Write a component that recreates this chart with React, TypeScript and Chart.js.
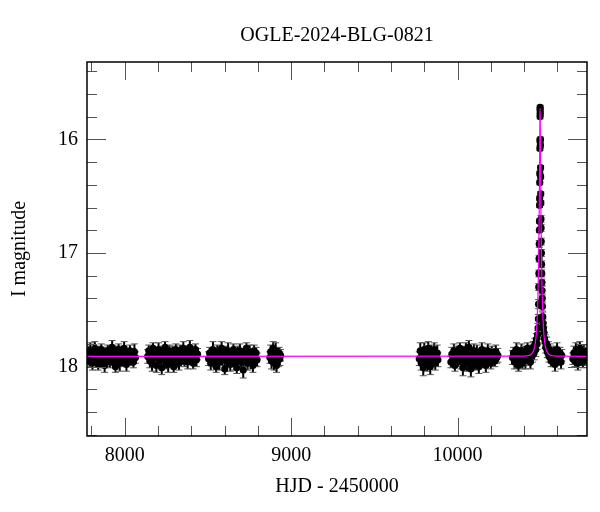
import React, { useEffect, useRef } from 'react';
import { Chart, registerables } from 'chart.js';

Chart.register(...registerables);

const FONT = '"Liberation Serif", "Times New Roman", serif';

const chartTitle = 'OGLE-2024-BLG-0821';
const xTitle = 'HJD - 2450000';
const yTitle = 'I magnitude';
const xMajorTicks = [8000, 9000, 10000];
const xMinorStep = 200;
const yMajorTicks = [16, 17, 18];
const yMinorStep = 0.2;
const xRange = [7773, 10778];
const yRange = [15.32, 18.61];

// [HJD-2450000, I mag, error]
const season1 = [
  [7774,17.93,.05],[7781,17.88,.06],[7788,17.95,.05],[7793,17.86,.07],[7801,17.91,.05],[7806,17.97,.06],
  [7814,17.89,.05],[7820,17.84,.06],[7827,17.94,.05],[7833,17.90,.07],[7840,17.98,.05],[7846,17.87,.05],
  [7853,17.92,.06],[7859,17.85,.05],[7866,17.95,.06],[7872,17.90,.05],[7879,17.99,.06],[7885,17.88,.05],
  [7892,17.93,.07],[7898,17.86,.05],[7905,17.91,.06],[7911,17.96,.05],[7918,17.89,.05],[7924,17.83,.06],
  [7931,17.94,.05],[7937,17.90,.06],[7944,18.00,.05],[7950,17.87,.05],[7957,17.92,.06],[7963,17.85,.05],
  [7970,17.97,.07],[7976,17.91,.05],[7983,17.88,.06],[7990,17.95,.05],[7996,17.84,.06],[8003,17.92,.05],
  [8010,17.98,.06],[8017,17.89,.05],[8024,17.93,.06],[8031,17.86,.05],[8038,17.94,.05],[8045,17.90,.06],
  [8052,17.96,.05],[8058,17.87,.07],[8064,17.92,.05],
];
const season2 = [
  [8138,17.91,.06],[8144,17.86,.05],[8151,17.95,.06],[8157,17.89,.05],[8164,17.97,.07],[8170,17.84,.05],
  [8177,17.92,.06],[8183,17.88,.05],[8190,17.99,.06],[8196,17.90,.05],[8203,17.85,.06],[8209,17.94,.05],
  [8216,17.91,.07],[8222,18.01,.06],[8229,17.87,.05],[8235,17.93,.06],[8242,17.83,.05],[8248,17.96,.06],
  [8255,17.90,.05],[8261,17.98,.07],[8268,17.86,.05],[8274,17.92,.06],[8281,17.95,.05],[8287,17.88,.06],
  [8294,18.00,.05],[8300,17.91,.06],[8307,17.85,.05],[8313,17.94,.07],[8320,17.89,.05],[8326,17.97,.06],
  [8333,17.86,.05],[8339,17.92,.06],[8346,17.90,.05],[8352,17.84,.06],[8359,17.95,.05],[8365,17.91,.07],
  [8372,17.87,.05],[8378,17.96,.06],[8385,17.89,.05],[8391,17.83,.06],[8398,17.93,.05],[8404,17.88,.06],
  [8411,17.97,.05],[8418,17.90,.06],[8425,17.85,.05],[8431,17.94,.06],[8437,17.89,.05],
];
const season3 = [
  [8504,17.93,.06],[8510,17.88,.05],[8517,17.97,.06],[8523,17.90,.05],[8530,17.85,.07],[8536,17.95,.05],
  [8543,17.91,.06],[8549,18.00,.05],[8556,17.87,.06],[8562,17.93,.05],[8569,17.96,.07],[8575,17.89,.05],
  [8582,17.84,.06],[8588,17.94,.05],[8595,17.91,.06],[8601,18.02,.05],[8608,17.88,.06],[8614,17.95,.05],
  [8621,17.86,.07],[8627,17.92,.05],[8634,17.98,.06],[8640,17.90,.05],[8647,17.94,.06],[8653,17.85,.05],
  [8660,17.97,.06],[8666,17.91,.07],[8673,18.01,.05],[8679,17.88,.06],[8686,17.93,.05],[8692,17.86,.06],
  [8699,17.96,.05],[8705,17.90,.06],[8712,18.03,.07],[8718,17.89,.05],[8725,17.94,.06],[8731,17.84,.05],
  [8738,17.97,.06],[8744,17.91,.05],[8751,17.87,.06],[8757,17.95,.07],[8764,17.90,.05],[8770,17.99,.06],
  [8777,17.86,.05],[8783,17.93,.06],[8789,17.88,.05],[8795,17.94,.06],
];
const season4 = [
  [8872,17.92,.05],[8877,17.87,.06],[8882,17.95,.07],[8887,17.90,.05],[8892,17.84,.06],[8897,17.97,.06],
  [8902,17.91,.05],[8907,17.86,.07],[8912,17.99,.06],[8917,17.89,.05],[8922,17.94,.06],[8927,17.88,.05],
  [8932,17.93,.06],[8936,17.90,.05],
];
const season5 = [
  [9770,17.93,.06],[9776,17.86,.07],[9782,17.97,.06],[9788,17.90,.05],[9794,18.01,.07],[9800,17.85,.06],
  [9806,17.94,.05],[9812,17.89,.07],[9818,17.98,.06],[9824,17.84,.06],[9830,17.92,.05],[9836,18.00,.07],
  [9842,17.87,.06],[9848,17.95,.05],[9854,17.90,.07],[9860,17.85,.06],[9866,17.97,.06],[9872,17.91,.05],
  [9878,17.88,.07],[9882,17.94,.06],
];
const season6 = [
  [9960,17.96,.05],[9966,17.89,.06],[9972,17.93,.05],[9978,17.86,.06],[9984,17.99,.05],[9990,17.91,.06],
  [9996,17.87,.05],[10002,17.94,.06],[10008,17.90,.07],[10014,17.84,.05],[10020,17.96,.06],[10026,17.91,.05],
  [10032,18.01,.07],[10038,17.88,.06],[10044,17.93,.05],[10050,17.85,.06],[10056,17.97,.07],[10062,17.90,.05],
  [10068,17.83,.06],[10074,17.95,.05],[10080,18.02,.07],[10086,17.89,.06],[10092,17.92,.05],[10098,17.86,.06],
  [10104,17.98,.05],[10110,17.91,.07],[10116,17.87,.06],[10122,17.95,.05],[10128,18.00,.06],[10134,17.89,.05],
  [10140,17.93,.07],[10146,17.85,.06],[10152,17.96,.05],[10158,17.91,.06],[10164,17.88,.05],[10170,17.99,.06],
  [10176,17.90,.05],[10182,17.86,.06],[10188,17.94,.05],[10194,17.91,.06],[10200,17.97,.05],[10206,17.88,.06],
  [10212,17.93,.05],[10218,17.90,.06],[10224,17.95,.05],[10230,17.87,.06],[10236,17.92,.05],[10242,17.90,.06],
];
const season7 = [
  [10330,17.92,.06],[10336,17.88,.05],[10342,17.96,.06],[10348,17.90,.05],[10354,17.85,.06],[10360,17.94,.07],
  [10366,17.99,.05],[10372,17.89,.06],[10378,17.93,.05],[10384,17.86,.06],[10390,17.97,.05],[10396,17.91,.06],
  [10402,17.87,.05],[10408,17.95,.07],[10414,17.89,.06],[10420,17.84,.05],[10426,17.93,.06],[10432,17.88,.05],
  [10438,17.96,.06],[10444,17.86,.05],[10450,17.90,.06],[10455,17.83,.05],[10460,17.88,.06],[10465,17.80,.05],
  [10470,17.85,.06],[10474,17.76,.05],[10478,17.80,.05],[10481,17.72,.04],[10484,17.66,.04],[10486,17.58,.04],
  [10519,17.70,.05],[10522,17.75,.05],[10526,17.78,.06],[10530,17.83,.05],[10535,17.80,.06],[10540,17.87,.05],
  [10545,17.84,.06],[10550,17.91,.05],[10556,17.86,.06],[10562,17.95,.05],[10568,17.89,.06],[10574,17.93,.07],
  [10580,17.87,.05],[10586,17.98,.06],[10592,17.90,.05],[10598,17.85,.06],[10604,17.94,.05],[10610,17.91,.06],
  [10616,17.88,.05],[10622,17.96,.06],[10626,17.90,.05],
];
const eventPeak = [
  [10487,17.45,.04],[10488,17.30,.03],[10489,17.18,.03],[10490,17.05,.03],[10491,16.92,.03],[10492,16.80,.02],
  [10492.5,16.72,.02],[10493,16.58,.02],[10493.4,16.52,.02],[10494,16.38,.02],[10494.3,16.30,.02],[10495,16.08,.02],
  [10495.3,16.01,.02],[10496,15.80,.02],[10496.2,15.74,.02],[10496.5,15.72,.02],[10497,15.77,.02],[10497.8,16.00,.02],
  [10498,16.05,.02],[10499,16.25,.02],[10499.3,16.33,.02],[10500,16.48,.02],[10500.5,16.56,.02],[10501.5,16.70,.03],
  [10502,16.78,.03],[10503,16.90,.03],[10504,17.00,.03],[10505,17.10,.03],[10506,17.18,.03],[10507,17.26,.03],
  [10508,17.33,.04],[10509,17.40,.04],[10510,17.47,.04],[10512,17.56,.04],[10514,17.62,.04],[10516,17.66,.05],
];
const season8 = [
  [10693,17.93,.05],[10699,17.88,.06],[10705,17.95,.05],[10711,17.86,.07],[10717,17.91,.05],[10723,17.97,.06],
  [10729,17.89,.05],[10735,17.84,.06],[10741,17.94,.05],[10747,17.90,.06],[10753,17.96,.05],[10759,17.87,.06],
  [10765,17.92,.05],[10771,17.89,.06],[10777,17.94,.05],
];

// Model curve (magenta)
const modelT = [7700, 10380, 10416, 10441, 10456, 10464, 10471, 10476, 10480, 10483, 10486, 10488, 10490, 10491,
  10492, 10493, 10494, 10495, 10496, 10497, 10498, 10499, 10500, 10501, 10502, 10504, 10506, 10509, 10512, 10516,
  10521, 10528, 10536, 10551, 10576, 10612, 10900];
const modelM = [17.91, 17.908, 17.905, 17.893, 17.863, 17.822, 17.749, 17.652, 17.526, 17.385, 17.18, 16.995, 16.75, 16.60,
  16.42, 16.22, 16.00, 15.81, 15.73, 15.81, 16.00, 16.22, 16.42, 16.60, 16.75, 16.995, 17.18, 17.385, 17.526, 17.652,
  17.749, 17.822, 17.863, 17.893, 17.905, 17.908, 17.91];

function stepTicks(min: number, max: number, step: number) {
  const out: { value: number }[] = [];
  const start = Math.ceil(min / step - 1e-9);
  const end = Math.floor(max / step + 1e-9);
  for (let k = start; k <= end; k++) out.push({ value: Math.round(k * step * 1000) / 1000 });
  return out;
}

const isMajor = (v: number, majors: number[]) => majors.some((m) => Math.abs(m - v) < 1e-6);

export default function App() {
  const ref = useRef<HTMLCanvasElement | null>(null);

  useEffect(() => {
    document.body.style.margin = '0';
    const allObs = [...season1, ...season2, ...season3, ...season4, ...season5, ...season6, ...season7, ...eventPeak, ...season8];
    const points = allObs.map(([x, y, e]) => ({ x, y, e }));
    const model = modelT.map((t, i) => ({ x: t, y: modelM[i] }));

    const errorBars = {
      id: 'errorBars',
      beforeDatasetsDraw(chart: any) {
        const { ctx, chartArea, scales } = chart;
        const xs = scales.x, ys = scales.y;
        ctx.save();
        ctx.beginPath();
        ctx.rect(chartArea.left, chartArea.top, chartArea.right - chartArea.left, chartArea.bottom - chartArea.top);
        ctx.clip();
        chart.data.datasets.forEach((ds: any) => {
          if (!ds.errorBars) return;
          ds.data.forEach((p: any) => {
            const px = xs.getPixelForValue(p.x);
            const y1 = ys.getPixelForValue(p.y - p.e);
            const y2 = ys.getPixelForValue(p.y + p.e);
            ctx.strokeStyle = '#000';
            ctx.lineWidth = 2;
            ctx.beginPath();
            ctx.moveTo(px, y1);
            ctx.lineTo(px, y2);
            ctx.stroke();
            ctx.strokeStyle = '#555';
            ctx.lineWidth = 1;
            ctx.beginPath();
            ctx.moveTo(px - 3.5, y1);
            ctx.lineTo(px + 3.5, y1);
            ctx.moveTo(px - 3.5, y2);
            ctx.lineTo(px + 3.5, y2);
            ctx.stroke();
          });
        });
        ctx.restore();
      },
    };

    const frame = {
      id: 'frame',
      afterDraw(chart: any) {
        const { ctx, chartArea: a, scales } = chart;
        const xs = scales.x, ys = scales.y;
        ctx.save();
        ctx.strokeStyle = '#555';
        ctx.lineWidth = 1;
        ctx.beginPath();
        xs.ticks.forEach((t: any) => {
          if (t.value < xs.min || t.value > xs.max) return;
          const px = Math.round(xs.getPixelForValue(t.value)) + 0.5;
          const len = isMajor(t.value, xMajorTicks) ? 18 : 10;
          ctx.moveTo(px, a.bottom);
          ctx.lineTo(px, a.bottom - len);
          ctx.moveTo(px, a.top);
          ctx.lineTo(px, a.top + len);
        });
        ys.ticks.forEach((t: any) => {
          if (t.value < ys.min || t.value > ys.max) return;
          const py = Math.round(ys.getPixelForValue(t.value)) + 0.5;
          const len = isMajor(t.value, yMajorTicks) ? 19 : 10;
          ctx.moveTo(a.left, py);
          ctx.lineTo(a.left + len, py);
          ctx.moveTo(a.right, py);
          ctx.lineTo(a.right - len, py);
        });
        ctx.stroke();
        ctx.strokeStyle = '#000';
        ctx.lineWidth = 1.5;
        ctx.strokeRect(a.left, a.top, a.right - a.left, a.bottom - a.top);
        ctx.restore();
      },
    };

    const chart = new Chart(ref.current as HTMLCanvasElement, {
      type: 'scatter',
      data: {
        datasets: [
          {
            label: 'model',
            type: 'line',
            data: model,
            borderColor: '#ff00ff',
            borderWidth: 1.2,
            pointRadius: 0,
            showLine: true,
            cubicInterpolationMode: 'monotone',
            order: 0,
          } as any,
          {
            label: 'OGLE I',
            data: points,
            pointRadius: 3.6,
            pointHoverRadius: 3.6,
            backgroundColor: '#000',
            borderColor: '#000',
            borderWidth: 0,
            order: 1,
            errorBars: true,
          } as any,
        ],
      },
      options: {
        responsive: false,
        animation: false,
        events: [],
        layout: { padding: { left: 0, right: 13, top: 0, bottom: 0 } },
        plugins: {
          legend: { display: false },
          tooltip: { enabled: false },
          title: {
            display: true,
            text: chartTitle,
            fullSize: false,
            color: '#000',
            font: { family: FONT, size: 20, weight: 'normal' },
            padding: { top: 24, bottom: 14 },
          },
        },
        scales: {
          x: {
            type: 'linear',
            min: xRange[0],
            max: xRange[1],
            grid: { display: false, drawTicks: false },
            border: { display: false },
            afterBuildTicks: (s: any) => { s.ticks = stepTicks(xRange[0], xRange[1], xMinorStep); },
            ticks: {
              autoSkip: false,
              maxRotation: 0,
              padding: 8,
              color: '#000',
              font: { family: FONT, size: 20 },
              callback: (v: any) => (isMajor(Number(v), xMajorTicks) ? String(Math.round(Number(v))) : ''),
            },
            title: {
              display: true,
              text: xTitle,
              color: '#000',
              font: { family: FONT, size: 20 },
              padding: { top: 0, bottom: 13 },
            },
            afterFit: (s: any) => { s.height = 76; },
          },
          y: {
            type: 'linear',
            reverse: true,
            min: yRange[0],
            max: yRange[1],
            grid: { display: false, drawTicks: false },
            border: { display: false },
            afterBuildTicks: (s: any) => { s.ticks = stepTicks(yRange[0], yRange[1], yMinorStep); },
            ticks: {
              autoSkip: false,
              padding: 9,
              color: '#000',
              font: { family: FONT, size: 20 },
              callback: (v: any) => (isMajor(Number(v), yMajorTicks) ? String(Math.round(Number(v))) : ''),
            },
            title: {
              display: true,
              text: yTitle,
              color: '#000',
              font: { family: FONT, size: 20 },
              padding: { top: 8, bottom: 0 },
            },
            afterFit: (s: any) => { s.width = 87; },
          },
        },
      },
      plugins: [errorBars, frame],
    } as any);

    return () => chart.destroy();
  }, []);

  return (
    <div style={{ width: 600, height: 512 }}>
      <canvas ref={ref} width={600} height={512} style={{ display: 'block' }} />
    </div>
  );
}
